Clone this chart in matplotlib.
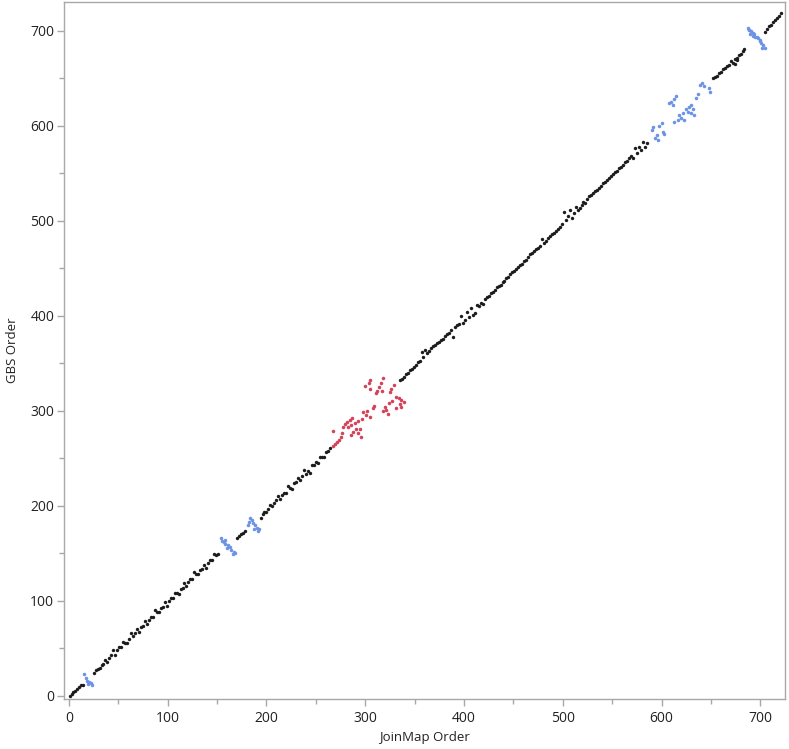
import matplotlib
matplotlib.use("Agg")
import matplotlib.pyplot as plt
from matplotlib.ticker import MultipleLocator

# black markers, in order along the diagonal (JoinMap order, GBS order)
black_x = [
    1, 3, 4, 6, 8, 10, 12, 14,
    25, 27, 29, 31, 33, 35, 37, 39, 41, 43, 45, 47, 49, 51, 53, 55, 57, 59, 61, 63,
    65, 67, 69, 71, 73, 75, 77, 79, 81, 83, 85, 87, 89, 91, 93, 95, 97, 99, 101, 103,
    105, 107, 109, 111, 113, 115, 117, 119, 121, 123, 125, 127, 129, 131, 133, 135,
    137, 139, 141, 143, 145, 147, 149, 151,
    170, 172, 174, 176, 178,
    194, 196, 198, 200, 202, 204, 206, 208, 210, 212, 214, 216, 218, 220, 222, 224,
    226, 228, 230, 232, 234, 236, 238, 240, 242, 244, 246, 248, 250, 252, 254, 256,
    258, 260, 262, 264,
    335, 337, 339, 341, 343, 345, 347, 349, 351, 353, 355, 357, 359, 361, 363, 365,
    367, 369, 371, 373, 375, 377, 379, 381, 383, 385, 387, 389, 391, 393, 395, 397,
    399, 401, 403, 405, 407, 409, 411, 413, 415, 417, 419, 421, 423, 425, 427, 429,
    431, 433, 435, 437, 439, 441, 443, 445, 447, 449, 451, 453, 455, 457, 459, 461,
    463, 465, 467, 469, 471, 473, 475, 477, 479, 481, 483, 485, 487, 489, 491, 493,
    495, 497, 499, 501, 503, 505, 507, 509, 511, 513, 515, 517, 519, 521, 523, 525,
    527, 529, 531, 533, 535, 537, 539, 541, 543, 545, 547, 549, 551, 553, 555, 557,
    559, 561, 563, 565, 567, 569, 571, 573, 575, 577, 579, 581, 583, 585,
    652, 654, 656, 658, 660, 662, 664, 666, 668, 670, 672, 674, 676, 678, 680, 682,
    684, 674, 676,
    705, 707, 709, 711, 713, 715, 717, 719, 721,
]
black_y = [
    0, 2, 4, 5, 7, 9, 11, 12,
    24, 27, 28, 29, 33, 34, 38, 36, 40, 43, 48, 43, 48, 51, 51, 57, 56, 56, 60, 66,
    63, 66, 70, 67, 73, 74, 79, 76, 80, 83, 83, 90, 88, 88, 93, 94, 99, 95, 100, 103,
    103, 108, 108, 107, 113, 114, 119, 116, 120, 123, 123, 130, 128, 128, 133, 134,
    138, 135, 140, 143, 143, 149, 148, 149,
    166, 168, 170, 172, 174,
    187, 191, 194, 194, 197, 201, 200, 203, 206, 210, 207, 211, 214, 214, 221, 219,
    218, 224, 225, 229, 227, 231, 238, 234, 237, 235, 243, 243, 246, 245, 252, 251,
    252, 257, 258, 261,
    333, 334, 336, 339, 340, 343, 344, 346, 348, 352, 353, 362, 357, 364, 361, 363,
    366, 368, 369, 371, 373, 375, 376, 379, 381, 382, 385, 378, 388, 390, 392, 400,
    393, 396, 404, 399, 408, 401, 403, 411, 410, 414, 413, 418, 420, 421, 424, 425,
    427, 430, 431, 433, 436, 437, 440, 441, 444, 446, 447, 449, 451, 454, 455, 458,
    459, 462, 465, 466, 468, 470, 471, 474, 481, 477, 479, 482, 484, 486, 487, 489,
    492, 494, 497, 509, 501, 505, 512, 503, 508, 515, 511, 514, 517, 520, 519, 523,
    526, 527, 529, 531, 533, 535, 537, 540, 541, 543, 545, 547, 549, 551, 553, 556,
    557, 559, 562, 563, 566, 568, 566, 577, 572, 578, 575, 583, 578, 582,
    650, 652, 653, 656, 657, 660, 661, 663, 664, 668, 666, 670, 672, 675, 676, 679,
    681, 665, 669,
    699, 702, 705, 706, 709, 711, 714, 716, 719,
]

# blue markers (small local inversions)
blue_x = [
    15, 17, 18.5, 20.5, 22, 19.5, 23,
    154, 155, 157, 158.5, 161, 163, 160.5, 164.5, 167.5, 168.5, 166.5, 158,
    183, 185, 182, 186.5, 188, 190, 187.5, 191, 181, 192.5,
    641, 639, 643, 648, 649, 637, 635, 615, 613, 610, 612, 608, 630, 628, 632, 624.5,
    627, 622, 618, 620, 617, 622.5, 613, 630, 632.5, 600, 597.5, 591.5, 590, 601.5,
    603, 595, 593, 596.5,
    687.5, 689, 691, 692.5, 690, 693, 695, 697.5, 699.5, 701, 702.5, 704.5, 702,
    688.5, 694, 700, 697,
]
blue_y = [
    23, 18.5, 16, 14.5, 13.5, 12.5, 11.5,
    166, 163, 162, 159.5, 159, 157, 155.5, 153.5, 152, 150, 149, 164.5,
    187, 185.5, 183, 182, 179.5, 177, 176, 173.5, 180, 176,
    645.5, 643, 641.5, 639.5, 636, 633.5, 629, 631.5, 628, 625.5, 622, 624, 622, 619.5,
    617.5, 617.5, 615, 613.5, 611.5, 608, 606.5, 606.5, 604.5, 613.5, 611.5, 603, 600,
    598.5, 595.5, 594, 591.5, 590.5, 587, 585,
    703, 701, 699.5, 697.5, 696.5, 695, 694, 692.5, 689.5, 687, 685.5, 682.5, 682,
    700.5, 696.5, 690, 693.5,
]

# red markers (inverted block in the middle)
red_x = [
    305, 303.5, 299.5, 304.5, 318, 315.5, 314, 312, 316.5, 310.5, 326, 325.5,
    331, 334.5, 336.5, 327.5, 324, 335, 336, 331.5, 320, 321.5, 317.5, 323,
    309, 307.5, 302, 298, 301, 304.5, 287, 284.5, 281.5, 279.5, 277.5, 282.5,
    286, 289.5, 293, 290.5, 287.5, 293, 286, 296, 294.5, 267, 275, 273.5,
    271, 269, 267.5, 339, 329, 296.5, 276,
]
red_y = [
    332.5, 329, 326.5, 323, 335, 329, 325.5, 321, 320.5, 318.5, 323, 319.5,
    315, 313.5, 311.5, 310.5, 308.5, 307, 304.5, 303, 304.5, 301, 299.5, 296.5,
    305.5, 303, 300, 298.5, 296, 294, 293, 290.5, 288, 286, 283.5, 283.5,
    285, 287, 289.5, 281, 278, 276.5, 274.5, 273, 281.5, 279, 273, 269.5,
    267, 265, 263.5, 309, 327, 291, 277,
]

plt.rcParams["font.family"] = ["Open Sans", "DejaVu Sans"]

fig = plt.figure(figsize=(7.89, 7.49), dpi=100)
ax = fig.add_axes([0.0811, 0.0668, 0.9138, 0.9306])

ax.scatter(black_x, black_y, s=6, color="#1c1c1c", linewidths=0, zorder=3)
ax.scatter(blue_x, blue_y, s=6.5, color="#6d93e6", linewidths=0, zorder=3)
ax.scatter(red_x, red_y, s=6.5, color="#d2445a", linewidths=0, zorder=3)

ax.set_xlim(-5, 725)
ax.set_ylim(-3.2, 730.5)
ax.xaxis.set_major_locator(MultipleLocator(100))
ax.xaxis.set_minor_locator(MultipleLocator(50))
ax.yaxis.set_major_locator(MultipleLocator(100))
ax.yaxis.set_minor_locator(MultipleLocator(50))

for spine in ax.spines.values():
    spine.set_color("#a8a8a8")
    spine.set_linewidth(1)
ax.tick_params(which="major", length=5, width=1, color="#a8a8a8", labelsize=10,
               labelcolor="#222222", pad=4)
ax.tick_params(which="minor", length=3.5, width=1, color="#a8a8a8")
ax.tick_params(axis="y", pad=2)

ax.set_xlabel("JoinMap Order", fontsize=9.5, color="#222222", labelpad=3)
ax.set_ylabel("GBS Order", fontsize=9.5, color="#222222", labelpad=8)

fig.savefig("out.png", dpi=100)
